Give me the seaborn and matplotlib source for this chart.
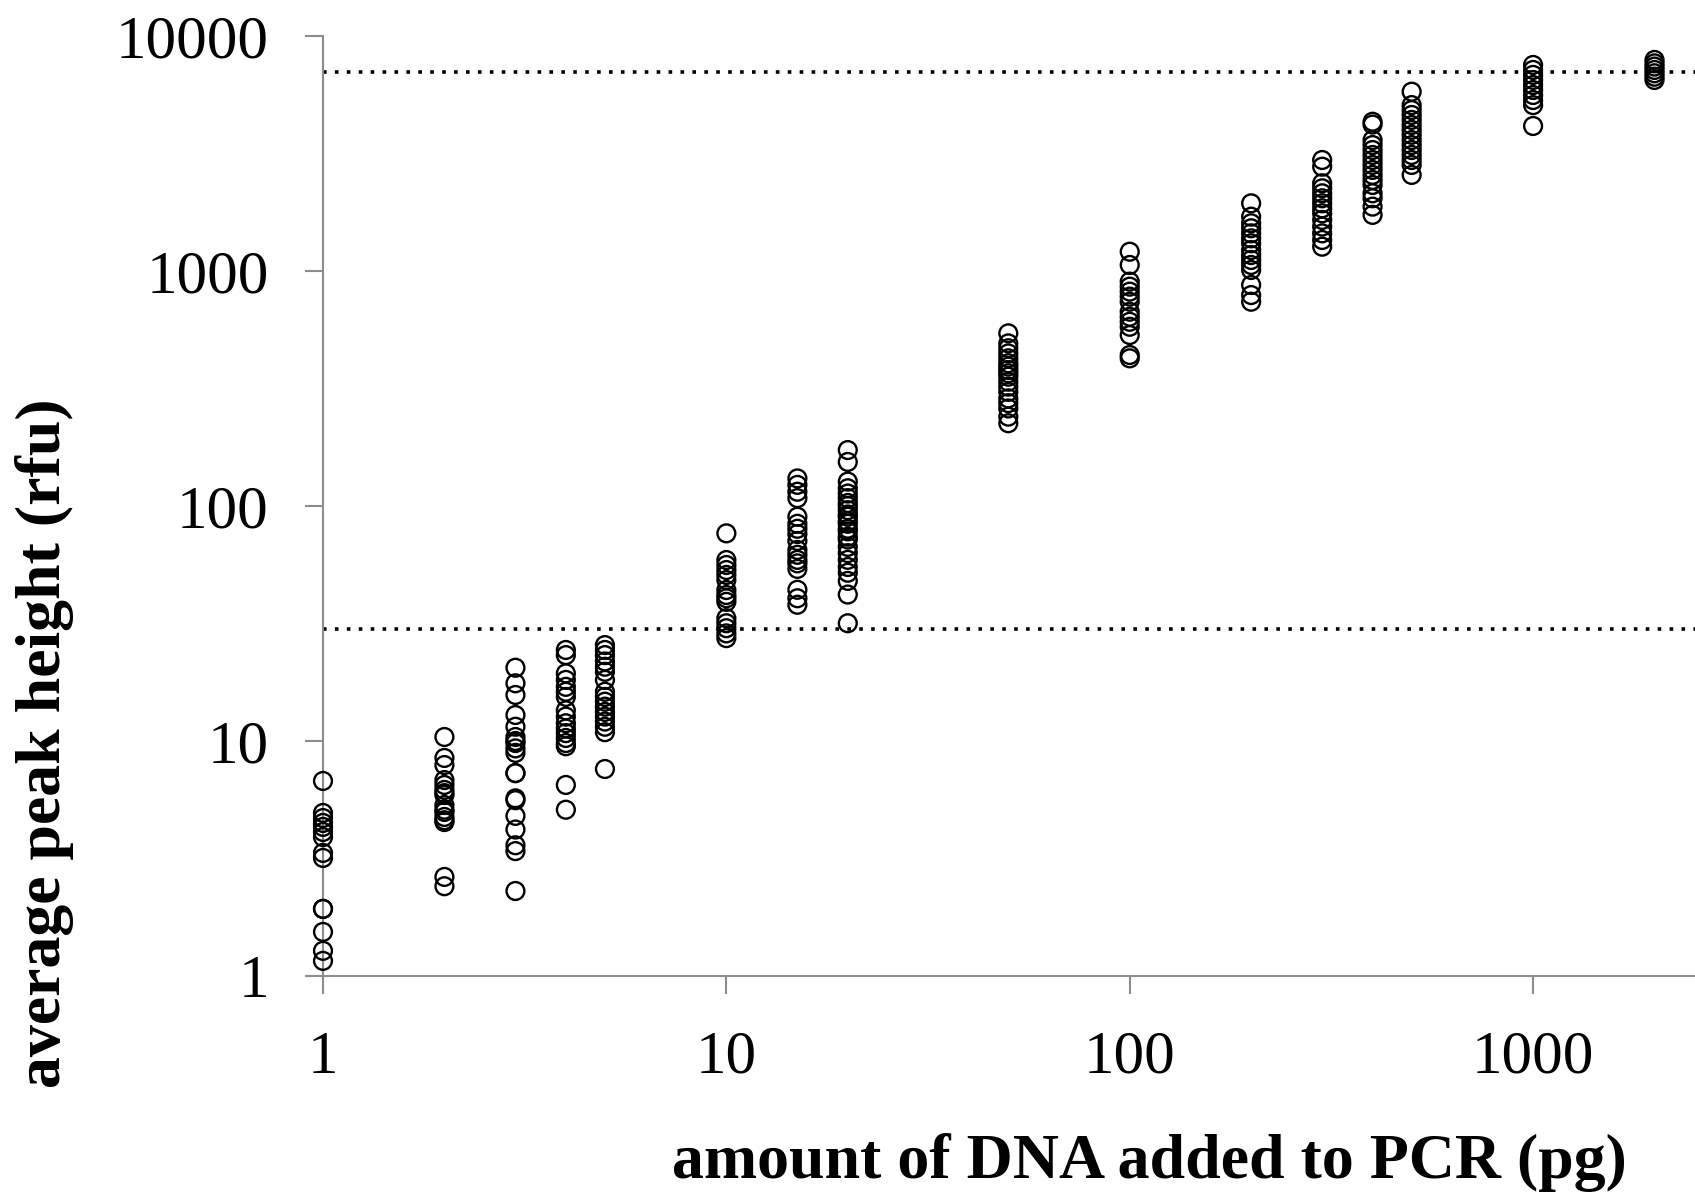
import numpy as np
import pandas as pd
import matplotlib
matplotlib.use("Agg")
import matplotlib.pyplot as plt
import seaborn as sns

# DNA input amounts (pg) and the average peak heights (rfu) observed at each
amounts = [1, 2, 3, 4, 5, 10, 15, 20, 50, 100, 200, 300, 400, 500, 1000, 2000]

heights_1 = [6.76, 4.94, 4.70, 4.48, 4.31, 4.10, 3.90, 3.34, 3.18, 1.93, 1.93, 1.54, 1.28, 1.16]
heights_2 = [10.4, 8.47, 7.9, 6.82, 6.50, 6.19, 6.0, 5.89, 5.34, 5.1, 4.99, 4.75, 4.6, 4.52, 2.64, 2.41]
heights_3 = [20.5, 17.6, 15.7, 12.9, 11.5, 10.4, 10.0, 9.8, 9.3, 8.9, 7.3, 7.3, 5.7, 5.6, 4.8, 4.2, 3.6, 3.4, 2.3]
heights_4 = [24.4, 23.2, 19.4, 18.2, 17.0, 16.2, 15.4, 13.5, 12.7, 11.9, 11.3, 10.8, 10.3, 9.8, 9.5, 6.5, 5.1]
heights_5 = [25.6, 24.4, 23.2, 21.8, 20.7, 19.7, 18.2, 16.2, 15.4, 14.7, 14.0, 13.3, 12.7, 12.1, 11.5, 10.9, 7.6]
heights_10 = [76.5, 58.9, 56.1, 53.4, 50.9, 48.4, 43.9, 41.8, 40.5, 39.1, 33.3, 31.7, 30.2, 28.7, 27.4]
heights_15 = [131, 123, 115, 108, 90, 84, 80, 76, 71, 65, 62, 59, 57, 54, 44, 40.5, 38]
heights_20 = [173, 154, 127, 119, 113, 108, 103, 100, 96, 92, 90, 86, 84, 80, 78, 74, 72,
              67, 63, 59, 55, 52, 48, 42, 31.7]
heights_50 = [543, 492, 469, 446, 425, 405, 392, 379, 367, 355, 338, 322, 306, 287, 274, 260, 240, 225]
heights_100 = [1208, 1061, 901, 858, 817, 778, 740, 671, 639, 608, 579, 534, 439, 425]
heights_200 = [1941, 1703, 1596, 1520, 1446, 1377, 1312, 1228, 1169, 1114, 1061, 1010, 872, 790, 740]
heights_300 = [2967, 2779, 2362, 2249, 2141, 2039, 1941, 1848, 1760, 1649, 1545, 1446, 1355, 1269]
heights_400 = [4317, 4200, 3606, 3435, 3272, 3117, 2967, 2827, 2692, 2564, 2440, 2323, 2141, 2039, 1879, 1733]
heights_500 = [5794, 5081, 4841, 4613, 4395, 4182, 3985, 3797, 3606, 3435, 3272, 3117, 2967, 2827, 2564]
heights_1000 = [7530, 7170, 6830, 6500, 6185, 5890, 5610, 5340, 5080, 4140]
heights_2000 = [7910, 7650, 7410, 7170, 6940, 6710, 6500]

heights = [heights_1, heights_2, heights_3, heights_4, heights_5, heights_10, heights_15,
           heights_20, heights_50, heights_100, heights_200, heights_300, heights_400,
           heights_500, heights_1000, heights_2000]

# Detection thresholds drawn as dotted lines (rfu)
thresholds = [7000, 30]

x_ticks = [1, 10, 100, 1000]
x_tick_labels = ["1", "10", "100", "1000"]
y_ticks = [1, 10, 100, 1000, 10000]
y_tick_labels = ["1", "10", "100", "1000", "10000"]

df = pd.DataFrame(
    [(a, h) for a, hs in zip(amounts, heights) for h in hs],
    columns=["amount", "height"],
)

sns.set_style("white")
plt.rcParams["font.family"] = ["Liberation Serif", "DejaVu Serif"]
plt.rcParams["text.color"] = "black"
plt.rcParams["xtick.labelcolor"] = "black"
plt.rcParams["ytick.labelcolor"] = "black"

fig = plt.figure(figsize=(16.95, 11.99), dpi=100)
ax = fig.add_axes([323 / 1695, 1 - 976 / 1199, 1 - 323 / 1695, (976 - 36) / 1199])

for t in thresholds:
    ax.axhline(t, color="black", linewidth=2.6, linestyle=(0, (1, 2.3)), zorder=1)

sns.scatterplot(
    data=df, x="amount", y="height", ax=ax,
    marker="o", s=165, facecolors="none", edgecolor="black", linewidth=1.7,
    zorder=3, clip_on=False,
)

ax.set_xscale("log")
ax.set_yscale("log")
ax.set_xlim(1, 2520)
ax.set_ylim(1, 10000)

ax.set_xticks(x_ticks)
ax.set_xticklabels(x_tick_labels)
ax.set_yticks(y_ticks)
ax.set_yticklabels(y_tick_labels)
ax.minorticks_off()

ax.tick_params(axis="both", which="major", labelsize=44, length=13, width=1.5,
               color="#8c8c8c", labelcolor="black", direction="out", pad=26,
               bottom=True, left=True)

for side in ["top", "right"]:
    ax.spines[side].set_visible(False)
for side in ["left", "bottom"]:
    ax.spines[side].set_color("#8c8c8c")
    ax.spines[side].set_linewidth(1.5)

ax.set_xlabel("")
ax.set_ylabel("")
fig.text(1149 / 1695, 1 - 1162 / 1199, "amount of DNA added to PCR (pg)",
         ha="center", va="center", fontsize=46, fontweight="bold", color="black")
fig.text(45 / 1695, 1 - 743 / 1199, "average peak height (rfu)",
         ha="center", va="center", rotation=90, fontsize=46, fontweight="bold",
         color="black")

fig.savefig("out.png", dpi=100)
